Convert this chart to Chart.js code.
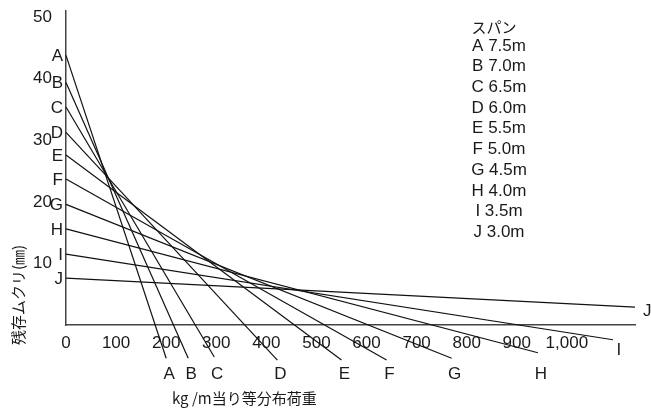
<!DOCTYPE html>
<html lang="ja">
<head>
<meta charset="UTF-8" />
<title>残存ムクリ</title>
<script src="https://cdn.jsdelivr.net/npm/chart.js"></script>
<style>
  html, body { margin: 0; padding: 0; background: #fff; }
</style>
</head>
<body>
<canvas id="chart" width="651" height="410"></canvas>
<script>
// スパン別の線 (A〜J)
const spanNames = ["A", "B", "C", "D", "E", "F", "G", "H", "I", "J"];
const spanLengths = ["7.5m", "7.0m", "6.5m", "6.0m", "5.5m", "5.0m", "4.5m", "4.0m", "3.5m", "3.0m"];
// 荷重0のときの残存ムクリ (mm)
const camberAtZero = [43.8, 39.4, 35.4, 31.3, 27.6, 23.7, 19.6, 15.6, 11.5, 7.6];
// 線の終点 (荷重 kg/m, ムクリ mm)
const endLoads = [200, 244, 296, 422, 550, 640, 770, 942, 1092, 1136];
const endCambers = [-5.4, -5.4, -5.2, -5.7, -5.7, -5.7, -5.4, -4.5, -2.4, 2.9];
// 目盛
const xTicks = [0, 100, 200, 300, 400, 500, 600, 700, 800, 900, 1000];
const yTicks = [10, 20, 30, 40, 50];

const legendTitle = "スパン";
const yTitle = "残存ムクリ(㎜)";
const xTitle = "kg /m当り等分布荷重";

const latin = '"Liberation Sans", Arial, sans-serif';
const cjk = '"Noto Sans CJK JP", sans-serif';
const ink = "#1a1a1a";

const datasets = spanNames.map((name, i) => ({
  label: name,
  data: [
    { x: 0, y: camberAtZero[i] },
    { x: endLoads[i], y: endCambers[i] },
  ],
  borderColor: "#111",
  borderWidth: 1.2,
  pointRadius: 0,
  tension: 0,
  fill: false,
  clip: false,
}));

// 軸ラベルのはみ出し分の余白を無くす
function noOverhang(s) {
  s.paddingTop = 0;
  s.paddingBottom = 0;
  s.paddingLeft = 0;
  s.paddingRight = 0;
}

// 文字ラベル（線の名前、凡例、軸タイトル）
const labelsPlugin = {
  id: "labels",
  afterDraw(chart) {
    const ctx = chart.ctx;
    const xs = chart.scales.x;
    const ys = chart.scales.y;
    ctx.save();
    ctx.fillStyle = ink;

    // 縦軸側の A〜J
    ctx.font = "17px " + latin;
    ctx.textAlign = "right";
    ctx.textBaseline = "middle";
    spanNames.forEach((name, i) => {
      ctx.fillText(name, xs.left - 3, ys.getPixelForValue(camberAtZero[i]) + 1);
    });

    // 線の終点側の A〜J
    spanNames.forEach((name, i) => {
      const px = xs.getPixelForValue(endLoads[i]);
      const py = ys.getPixelForValue(endCambers[i]);
      if (i < 8) {
        ctx.textAlign = "center";
        ctx.fillText(name, px + 3, 374);
      } else if (i === 8) {
        ctx.textAlign = "center";
        ctx.fillText(name, px + 6, py + 11);
      } else {
        ctx.textAlign = "left";
        ctx.fillText(name, px + 8, py + 4);
      }
    });

    // 凡例
    ctx.textAlign = "center";
    ctx.font = "15px " + cjk;
    ctx.fillText(legendTitle, 494, 27);
    ctx.font = "17px " + latin;
    spanNames.forEach((name, i) => {
      ctx.fillText(name + " " + spanLengths[i], 499, 46 + i * 20.7);
    });

    // 軸タイトル
    ctx.font = "15px " + cjk;
    ctx.textAlign = "left";
    ctx.fillText(xTitle, 172, 398);
    ctx.translate(18, 295);
    ctx.rotate(-Math.PI / 2);
    ctx.textAlign = "center";
    ctx.fillText(yTitle, 0, 0);
    ctx.restore();
  },
};

new Chart(document.getElementById("chart"), {
  type: "line",
  data: { datasets },
  options: {
    responsive: false,
    animation: false,
    events: [],
    layout: { padding: { top: 11, right: 16, left: 0, bottom: 0 } },
    plugins: { legend: { display: false }, tooltip: { enabled: false } },
    scales: {
      x: {
        type: "linear",
        min: 0,
        max: 1136,
        grid: { display: false, drawTicks: false },
        border: { display: true, color: "#444", width: 1.5 },
        afterBuildTicks: (s) => { s.ticks = xTicks.map((v) => ({ value: v })); },
        afterFit: (s) => { s.height = 85; noOverhang(s); },
        ticks: {
          color: ink,
          padding: 8,
          maxRotation: 0,
          autoSkip: false,
          font: { family: latin, size: 17 },
          callback: (v) => v.toLocaleString("en-US"),
        },
      },
      y: {
        type: "linear",
        min: 0,
        max: 51,
        grid: { display: false, drawTicks: false },
        border: { display: true, color: "#444", width: 1.5 },
        afterBuildTicks: (s) => { s.ticks = yTicks.map((v) => ({ value: v })); },
        afterFit: (s) => { s.width = 66; noOverhang(s); },
        ticks: {
          color: ink,
          padding: 14,
          font: { family: latin, size: 17 },
        },
      },
    },
  },
  plugins: [labelsPlugin],
});
</script>
</body>
</html>
